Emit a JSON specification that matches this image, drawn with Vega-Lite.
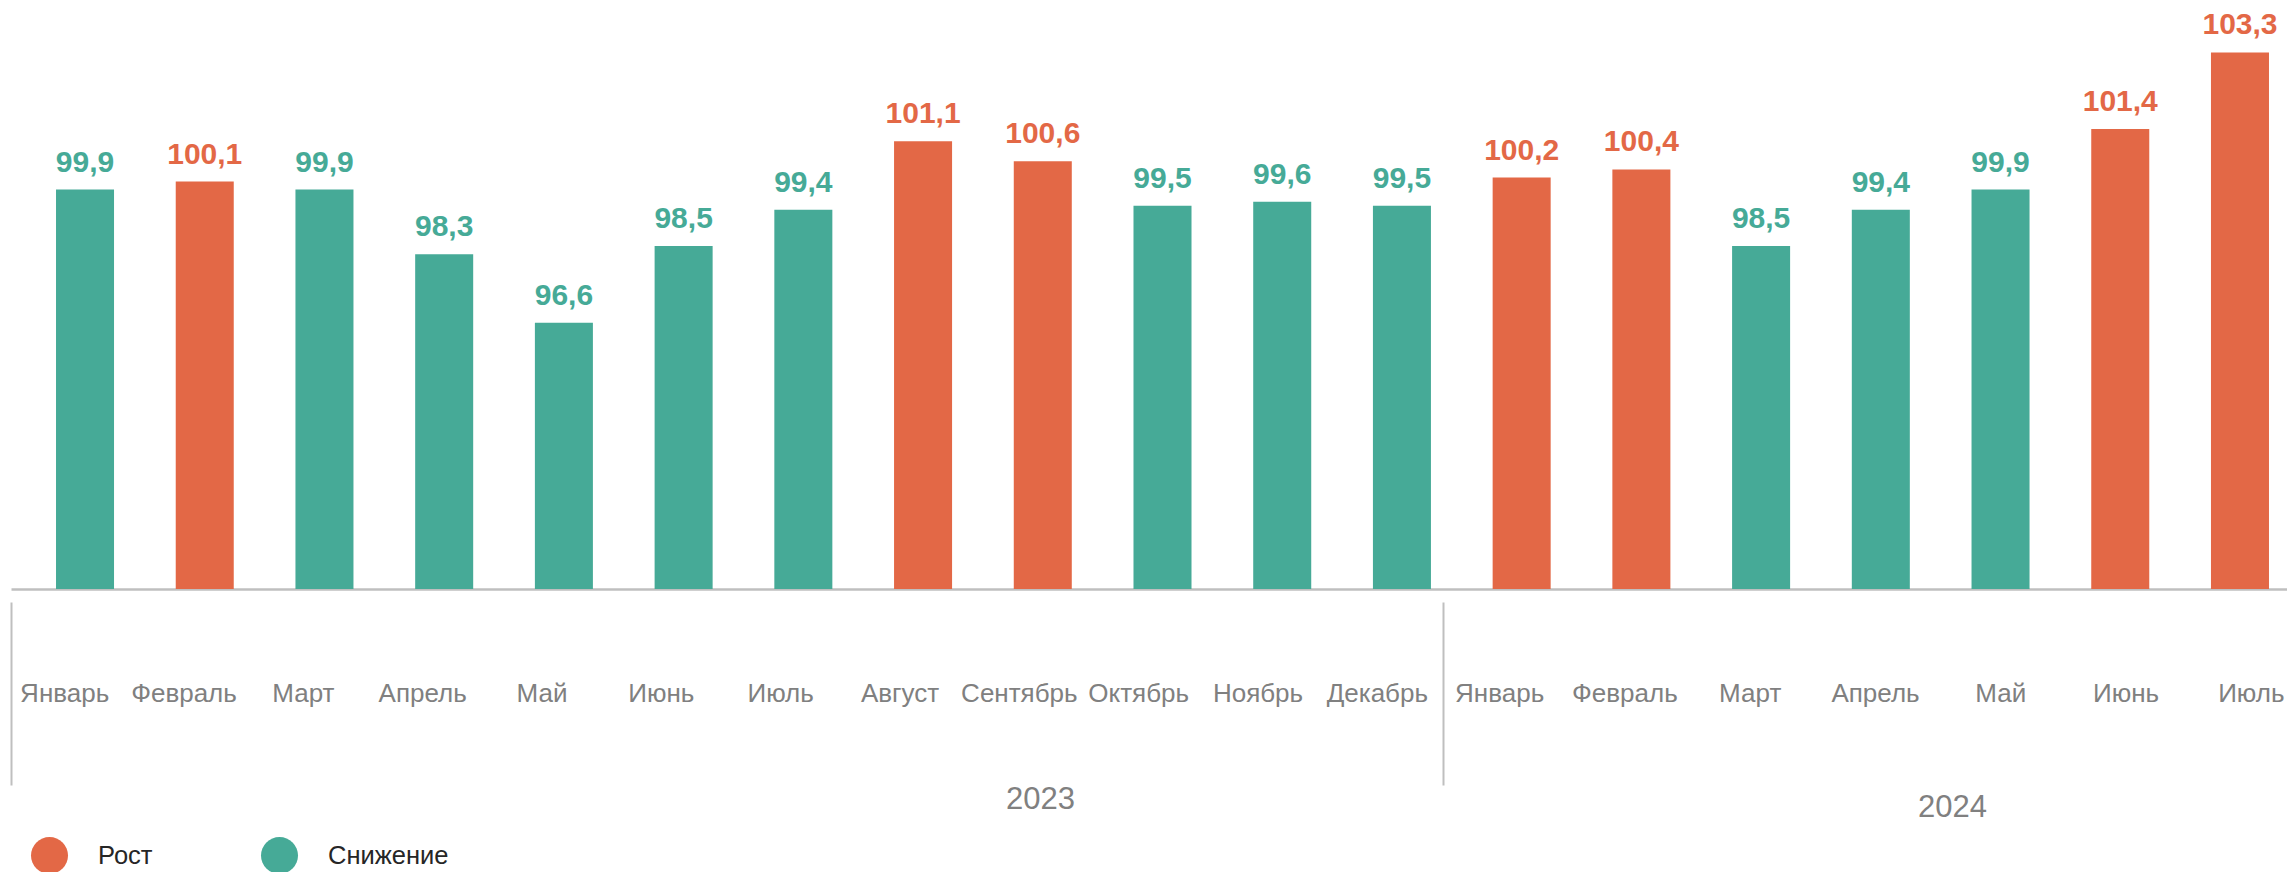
{
  "$schema": "https://vega.github.io/schema/vega-lite/v6.json",
  "autosize": {"type": "pad"},
  "padding": {"left": 11, "top": 0, "right": 0, "bottom": 0},
  "background": "white",
  "config": {
    "view": {"stroke": null},
    "font": "Liberation Sans",
    "locale": {"number": {"decimal": ",", "thousands": " ", "grouping": [3], "currency": ["", ""]}}
  },
  "datasets": {
    "months": [
      {"idx": 1, "year": 2023, "month": "Январь", "value": 99.9, "trend": "Снижение"},
      {"idx": 2, "year": 2023, "month": "Февраль", "value": 100.1, "trend": "Рост"},
      {"idx": 3, "year": 2023, "month": "Март", "value": 99.9, "trend": "Снижение"},
      {"idx": 4, "year": 2023, "month": "Апрель", "value": 98.3, "trend": "Снижение"},
      {"idx": 5, "year": 2023, "month": "Май", "value": 96.6, "trend": "Снижение"},
      {"idx": 6, "year": 2023, "month": "Июнь", "value": 98.5, "trend": "Снижение"},
      {"idx": 7, "year": 2023, "month": "Июль", "value": 99.4, "trend": "Снижение"},
      {"idx": 8, "year": 2023, "month": "Август", "value": 101.1, "trend": "Рост"},
      {"idx": 9, "year": 2023, "month": "Сентябрь", "value": 100.6, "trend": "Рост"},
      {"idx": 10, "year": 2023, "month": "Октябрь", "value": 99.5, "trend": "Снижение"},
      {"idx": 11, "year": 2023, "month": "Ноябрь", "value": 99.6, "trend": "Снижение"},
      {"idx": 12, "year": 2023, "month": "Декабрь", "value": 99.5, "trend": "Снижение"},
      {"idx": 13, "year": 2024, "month": "Январь", "value": 100.2, "trend": "Рост"},
      {"idx": 14, "year": 2024, "month": "Февраль", "value": 100.4, "trend": "Рост"},
      {"idx": 15, "year": 2024, "month": "Март", "value": 98.5, "trend": "Снижение"},
      {"idx": 16, "year": 2024, "month": "Апрель", "value": 99.4, "trend": "Снижение"},
      {"idx": 17, "year": 2024, "month": "Май", "value": 99.9, "trend": "Снижение"},
      {"idx": 18, "year": 2024, "month": "Июнь", "value": 101.4, "trend": "Рост"},
      {"idx": 19, "year": 2024, "month": "Июль", "value": 103.3, "trend": "Рост"}
    ]
  },
  "spacing": 13,
  "resolve": {"scale": {"x": "independent", "y": "independent"}},
  "vconcat": [
    {
      "width": 2303,
      "height": 589,
      "data": {"name": "months"},
      "encoding": {
        "x": {
          "field": "idx",
          "type": "ordinal",
          "scale": {"paddingInner": 0.5154, "paddingOuter": 0.376},
          "axis": {"labels": false, "ticks": false, "title": null, "domainColor": "#BFBFBF", "domainWidth": 2.5}
        },
        "y": {
          "field": "value",
          "type": "quantitative",
          "scale": {"domain": [90, 104.6], "zero": false, "nice": false},
          "axis": null
        },
        "color": {
          "field": "trend",
          "type": "nominal",
          "scale": {"domain": ["Рост", "Снижение"], "range": ["#E36846", "#46AA97"]},
          "legend": {
            "orient": "none",
            "legendX": 20,
            "legendY": 837,
            "direction": "horizontal",
            "title": null,
            "symbolType": "circle",
            "symbolSize": 1369,
            "symbolStrokeWidth": 0,
            "symbolOpacity": 1,
            "labelFontSize": 25.5,
            "labelColor": "#262626",
            "labelFont": "Liberation Sans",
            "labelOffset": 30,
            "columnPadding": 108
          }
        }
      },
      "layer": [
        {"mark": {"type": "bar"}, "encoding": {"y2": {"datum": 90}}},
        {
          "mark": {"type": "text", "dy": -18, "baseline": "alphabetic", "fontSize": 30, "fontWeight": "bold", "font": "Liberation Sans"},
          "encoding": {"text": {"field": "value", "type": "quantitative", "format": ".1f"}}
        }
      ]
    },
    {
      "spacing": 0,
      "resolve": {"scale": {"x": "independent", "y": "independent"}},
      "hconcat": [
        {
          "width": 1432,
          "height": 183,
          "data": {"name": "months"},
          "transform": [{"filter": "datum.year == 2023"}],
          "mark": {"type": "text", "fontSize": 26, "color": "#808080", "dx": -6, "font": "Liberation Sans"},
          "encoding": {
            "x": {
              "field": "month",
              "type": "nominal",
              "sort": {"field": "idx", "op": "min"},
              "axis": {"title": "2023", "labels": false, "ticks": false, "domain": false, "titleX": 1029, "titleY": 23, "titleBaseline": "alphabetic", "titleAlign": "center", "titleFontSize": 31, "titleFontWeight": "normal", "titleColor": "#808080", "titleFont": "Liberation Sans"}
            },
            "y": {
              "field": "year",
              "type": "nominal",
              "axis": {"title": null, "labels": false, "ticks": false, "domain": true, "domainColor": "#BFBFBF", "domainWidth": 2}
            },
            "text": {"field": "month", "type": "nominal"}
          }
        },
        {
          "width": 877,
          "height": 183,
          "data": {"name": "months"},
          "transform": [{"filter": "datum.year == 2024"}],
          "mark": {"type": "text", "fontSize": 26, "color": "#808080", "dx": -6, "font": "Liberation Sans"},
          "encoding": {
            "x": {
              "field": "month",
              "type": "nominal",
              "sort": {"field": "idx", "op": "min"},
              "axis": {"title": "2024", "labels": false, "ticks": false, "domain": false, "titleX": 509, "titleY": 31, "titleBaseline": "alphabetic", "titleAlign": "center", "titleFontSize": 31, "titleFontWeight": "normal", "titleColor": "#808080", "titleFont": "Liberation Sans"}
            },
            "y": {
              "field": "year",
              "type": "nominal",
              "axis": {"title": null, "labels": false, "ticks": false, "domain": true, "domainColor": "#BFBFBF", "domainWidth": 2}
            },
            "text": {"field": "month", "type": "nominal"}
          }
        }
      ]
    }
  ]
}
